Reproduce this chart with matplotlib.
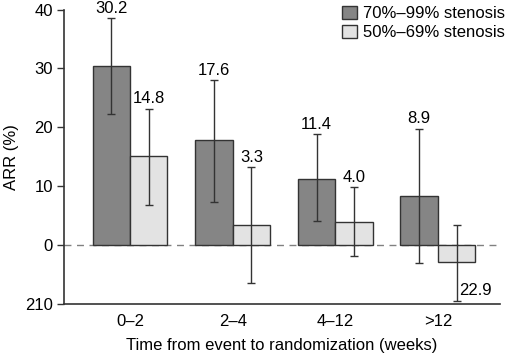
import matplotlib
matplotlib.use("Agg")
import matplotlib.pyplot as plt
import numpy as np
from matplotlib.patches import Patch

plt.rcParams['font.family'] = ['Liberation Sans', 'DejaVu Sans']

categories = ["0\u20132", "2\u20134", "4\u201312", ">12"]
series_names = ["70%\u201399% stenosis", "50%\u201369% stenosis"]
dark_vals = [30.5, 17.8, 11.3, 8.4]
light_vals = [15.1, 3.4, 4.0, -2.9]
dark_low = [22.3, 7.3, 4.1, -3.0]
dark_high = [38.5, 28.1, 18.8, 19.8]
light_low = [6.8, -6.4, -1.8, -9.5]
light_high = [23.2, 13.3, 9.9, 3.4]
dark_labels = ["30.2", "17.6", "11.4", "8.9"]
light_labels = ["14.8", "3.3", "4.0", "22.9"]
yticks = [-10, 0, 10, 20, 30, 40]
ytick_labels = ["210", "0", "10", "20", "30", "40"]

fig = plt.figure(figsize=(5.1, 3.55), dpi=100)
ax = fig.add_axes([0.1255, 0.1437, 0.98 - 0.1255, 0.973 - 0.1437])

x = np.arange(len(categories))
w = 0.365
dark_c = "#858585"
light_c = "#e3e3e3"
edge = "#333333"

ax.axhline(0, color="#808080", lw=1.0, linestyle=(0, (5, 4)), zorder=1)

ax.bar(x - w / 2, dark_vals, w, color=dark_c, edgecolor=edge, linewidth=1.0, zorder=2)
ax.bar(x + w / 2, light_vals, w, color=light_c, edgecolor=edge, linewidth=1.0, zorder=2)

for xs, vals, lo, hi in [(x - w / 2, dark_vals, dark_low, dark_high),
                         (x + w / 2, light_vals, light_low, light_high)]:
    v = np.array(vals)
    yerr = np.array([v - np.array(lo), np.array(hi) - v])
    ax.errorbar(xs, v, yerr=yerr, fmt="none", ecolor="#333333", elinewidth=1.0,
                capsize=3, capthick=1.0, zorder=3)

fs = 12
for i in range(len(categories)):
    ax.annotate(dark_labels[i], (x[i] - w / 2, dark_high[i]), xytext=(0, 1.5),
                textcoords="offset points", ha="center", va="bottom", fontsize=fs,
                annotation_clip=False)
    if light_vals[i] >= 0:
        ax.annotate(light_labels[i], (x[i] + w / 2, light_high[i]), xytext=(0, 1.5),
                    textcoords="offset points", ha="center", va="bottom", fontsize=fs,
                    annotation_clip=False)
    else:
        ax.annotate(light_labels[i], (x[i] + w / 2, light_low[i]), xytext=(2, 2),
                    textcoords="offset points", ha="left", va="bottom", fontsize=fs,
                    annotation_clip=False)

ax.set_xlim(-0.643, 3.603)
ax.set_ylim(-10, 40)
ax.set_yticks(yticks)
ax.set_yticklabels(ytick_labels, fontsize=fs)
ax.set_xticks(x)
ax.set_xticklabels(categories, fontsize=fs)
ax.tick_params(axis="x", length=0, pad=7)
ax.tick_params(axis="y", length=5, width=1, color="#333333", pad=3)
ax.spines["top"].set_visible(False)
ax.spines["right"].set_visible(False)
for s in ["left", "bottom"]:
    ax.spines[s].set_color("#333333")
    ax.spines[s].set_linewidth(1.2)
ax.set_ylabel("ARR (%)", fontsize=fs, labelpad=4)
ax.set_xlabel("Time from event to randomization (weeks)", fontsize=fs, labelpad=7)

handles = [Patch(facecolor=dark_c, edgecolor=edge, linewidth=1.0),
           Patch(facecolor=light_c, edgecolor=edge, linewidth=1.0)]
fig.legend(handles, series_names, loc="upper right", bbox_to_anchor=(1.004, 1.003),
           frameon=False, fontsize=fs, handlelength=0.9, handleheight=0.9,
           handletextpad=0.4, labelspacing=0.2, borderaxespad=0.0)

fig.savefig("out.png", dpi=100)
